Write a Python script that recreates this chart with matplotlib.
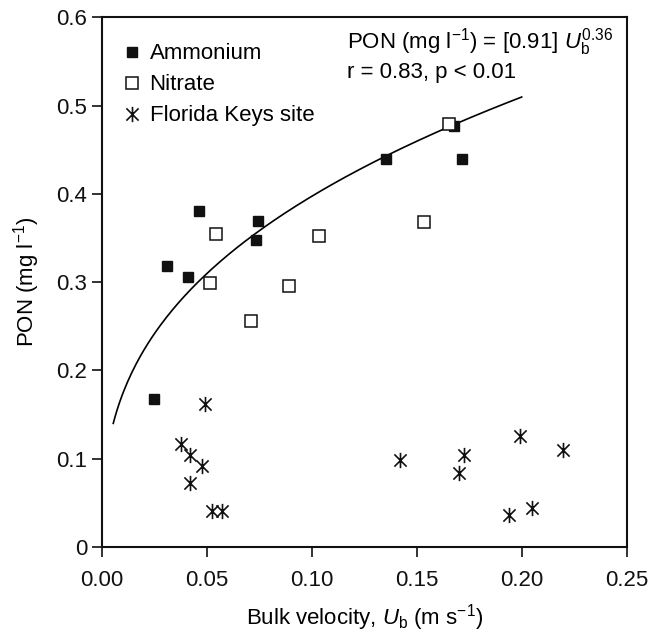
import numpy as np
import matplotlib
matplotlib.use('Agg')
import matplotlib.pyplot as plt
from matplotlib.path import Path

plt.rcParams['font.family'] = ['Liberation Sans', 'DejaVu Sans']
plt.rcParams['mathtext.fontset'] = 'custom'
plt.rcParams['mathtext.rm'] = 'Liberation Sans'
plt.rcParams['mathtext.it'] = 'Liberation Sans:italic'

# values
amm_x = [0.025, 0.0313, 0.0413, 0.0463, 0.0736, 0.0743, 0.1354, 0.1679, 0.1716]
amm_y = [0.168, 0.318, 0.306, 0.381, 0.348, 0.369, 0.440, 0.477, 0.440]
nit_x = [0.0517, 0.0544, 0.0713, 0.0892, 0.1035, 0.1535, 0.1652]
nit_y = [0.299, 0.355, 0.256, 0.296, 0.352, 0.368, 0.479]
fk_x = [0.0376, 0.042, 0.042, 0.0476, 0.0492, 0.0524, 0.0574,
        0.142, 0.170, 0.1727, 0.1938, 0.1992, 0.2049, 0.2195]
fk_y = [0.116, 0.104, 0.072, 0.092, 0.162, 0.0405, 0.0405,
        0.098, 0.084, 0.104, 0.036, 0.125, 0.044, 0.110]

# fit PON = 0.91 * Ub^0.36
fit_a = 0.91
fit_b = 0.36
fit_x = np.linspace(0.0055, 0.2, 200)
fit_y = fit_a * fit_x ** fit_b

# asterisk marker: X plus vertical bar
star = Path([(-1, -1), (1, 1), (-1, 1), (1, -1), (0, -1.25), (0, 1.25)],
            [Path.MOVETO, Path.LINETO, Path.MOVETO, Path.LINETO, Path.MOVETO, Path.LINETO])

fig = plt.figure(figsize=(6.49, 6.33), dpi=100)
ax = fig.add_axes([0.1567, 0.1363, 0.8089, 0.8361])

ax.plot(fit_x, fit_y, color='black', lw=1.2)
ax.plot(amm_x, amm_y, ls='none', marker='s', ms=7.2, color='#111111', label='Ammonium')
ax.plot(nit_x, nit_y, ls='none', marker='s', ms=8.6, mfc='white', mec='#111111', mew=1.1, label='Nitrate')
ax.plot(fk_x, fk_y, ls='none', marker=star, ms=11, color='#111111', mew=1.2, label='Florida Keys site')

ax.set_xlim(0, 0.25)
ax.set_ylim(0, 0.6)
ax.set_xticks([0, 0.05, 0.10, 0.15, 0.20, 0.25])
ax.set_xticklabels(['0.00', '0.05', '0.10', '0.15', '0.20', '0.25'])
ax.set_yticks([0, 0.1, 0.2, 0.3, 0.4, 0.5, 0.6])
ax.set_yticklabels(['0', '0.1', '0.2', '0.3', '0.4', '0.5', '0.6'])
ax.tick_params(direction='out', length=7, width=1.2, labelsize=16, colors='#111111')
ax.tick_params(axis='x', pad=9.5)
for s in ax.spines.values():
    s.set_linewidth(1.5)
    s.set_color('#111111')

ax.set_xlabel('Bulk velocity, $\\mathit{U}_{\\mathrm{b}}$ (m s$^{-1}$)', fontsize=16, labelpad=8)
ax.set_ylabel('PON (mg l$^{-1}$)', fontsize=16, labelpad=10)

ax.text(0.467, 0.983, 'PON (mg l$^{-1}$) = [0.91] $\\mathit{U}_{\\mathrm{b}}^{0.36}$\nr = 0.83, p < 0.01',
        transform=ax.transAxes, ha='left', va='top', fontsize=16, linespacing=1.25)

ax.legend(loc='upper left', bbox_to_anchor=(0.0425, 0.951), frameon=False, fontsize=16,
          handlelength=0.7, handletextpad=0.45, labelspacing=0.45, borderaxespad=0, borderpad=0)

plt.savefig('out.png', dpi=100)
